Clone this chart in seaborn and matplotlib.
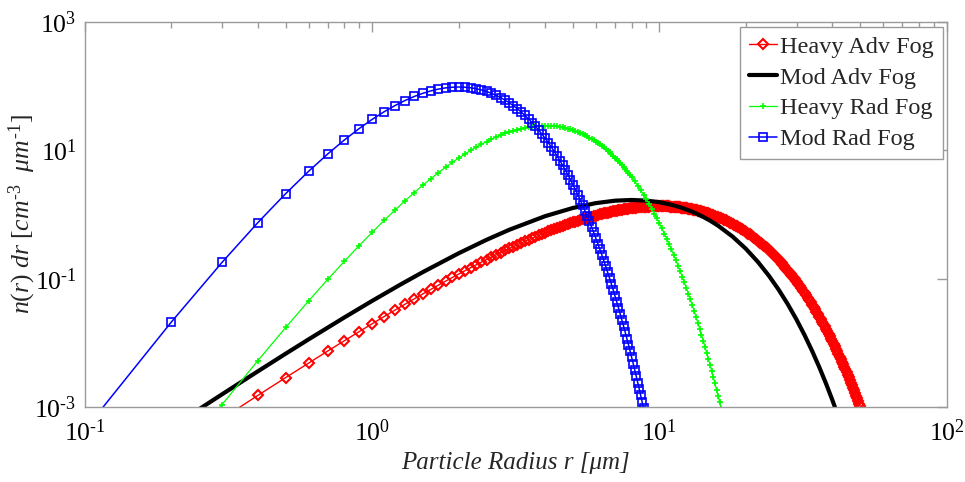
import numpy as np
import matplotlib
matplotlib.use("Agg")
import matplotlib.pyplot as plt
from matplotlib.ticker import LogLocator, NullLocator, NullFormatter
from matplotlib.font_manager import FontProperties
import seaborn as sns

# ---------------------------------------------------------------------------
# Fog droplet size distributions n(r) dr  [cm^-3 um^-1] versus radius r [um]
# ---------------------------------------------------------------------------

# Heavy advection fog: radii every 0.1 um to 15 um, then every 0.2 / 0.4 um
r_heavy_adv = np.round(np.concatenate([np.arange(0.3, 15.05, 0.1),
                                       np.arange(15.2, 30.05, 0.2),
                                       np.arange(30.4, 50.05, 0.4)]), 2)
n_heavy_adv = [
    # 0.3 .. 10.0 um
    6.663e-4, 1.533e-3, 2.905e-3, 4.871e-3, 7.507e-3, 1.0875e-2, 1.503e-2, 2.000e-2,
    2.583e-2, 3.255e-2, 4.016e-2, 4.868e-2, 5.810e-2, 6.843e-2, 7.965e-2, 9.176e-2,
    0.10473, 0.11855, 0.13315, 0.14858, 0.16479, 0.18171, 0.19925, 0.21755, 0.23639,
    0.25584, 0.27586, 0.29637, 0.31733, 0.33871, 0.36055, 0.38268, 0.4051, 0.42781,
    0.45073, 0.47387, 0.49710, 0.5205, 0.54386, 0.56737, 0.59089, 0.6144, 0.63787,
    0.66119, 0.68442, 0.70741, 0.73035, 0.75306, 0.7755, 0.79773, 0.81972, 0.84136,
    0.8627, 0.88375, 0.9043, 0.92466, 0.94454, 0.96401, 0.98311, 1.00173, 1.01993,
    1.03767, 1.05492, 1.07172, 1.08803, 1.10390, 1.11925, 1.13409, 1.14841, 1.16219,
    1.17549, 1.18828, 1.20049, 1.21230, 1.22354, 1.23421, 1.24445, 1.25409, 1.26327,
    1.27183, 1.27999, 1.28759, 1.29472, 1.30133, 1.30742, 1.31300, 1.31815, 1.32277,
    1.32695, 1.33068, 1.33390, 1.33673, 1.33901, 1.34092, 1.34237, 1.34345, 1.34407,
    1.34423,
    # 10.1 .. 15.0 um
    1.34403, 1.34345, 1.34241, 1.34107, 1.33938, 1.33731, 1.33480, 1.33200, 1.32888, 1.32545,
    1.32168, 1.31763, 1.31324, 1.30850, 1.30360, 1.29837, 1.29278, 1.28706, 1.28111, 1.27482,
    1.26828, 1.26162, 1.25464, 1.24752, 1.24019, 1.23267, 1.22492, 1.21706, 1.20898, 1.20071,
    1.19234, 1.18377, 1.17511, 1.16627, 1.15737, 1.14834, 1.13915, 1.12988, 1.12044, 1.11102,
    1.10144, 1.09182, 1.08203, 1.07226, 1.06243, 1.05247, 1.04253, 1.03248, 1.02245, 1.01230,
    # 15.2 .. 20.0 um
    0.99200, 0.97161, 0.95111, 0.93068, 0.91016, 0.88973, 0.86928, 0.84900, 0.82882, 0.80876,
    0.78887, 0.76914, 0.74960, 0.73032, 0.71122, 0.69238, 0.67381, 0.65547, 0.63745, 0.61966,
    0.60219, 0.58504, 0.56821, 0.55167, 0.53543,
    # 20.2 .. 30.0 um
    0.51952, 0.50395, 0.48867, 0.47376, 0.45919, 0.44492, 0.43096, 0.41735, 0.40405, 0.39106,
    0.37847, 0.36616, 0.35416, 0.34245, 0.33105, 0.32001, 0.30922, 0.29875, 0.28857, 0.27866,
    0.26905, 0.25973, 0.25066, 0.24187, 0.23331, 0.22507, 0.21705, 0.20928, 0.20175, 0.19446,
    0.18738, 0.18054, 0.17392, 0.16751, 0.16132, 0.15533, 0.14954, 0.14394, 0.13852, 0.13326,
    0.12824, 0.12336, 0.11864, 0.11410, 0.10970, 0.10547, 0.10138, 0.097434, 0.093637, 0.08997,
    # 30.4 .. 50.0 um
    0.083027, 0.076585, 0.070604, 0.065063, 0.05993, 0.055168, 0.050761, 0.046690, 0.042925, 0.03945,
    0.036236, 0.033272, 0.030538, 0.028020, 0.02569, 0.023560, 0.021593, 0.019782, 0.018118, 0.01659,
    0.015181, 0.013889, 0.012704, 0.011616, 0.010618, 0.0097022, 0.0088633, 0.0080941, 0.0073901, 0.006746,
    0.0061555, 0.0056151, 0.0051211, 0.0046692, 0.004257, 0.0038790, 0.0035343, 0.0032193, 0.0029316, 0.002670,
    0.0024297, 0.0022111, 0.0020118, 0.0018301, 0.001665, 0.0015134, 0.0013758, 0.0012505, 0.0011363, 0.001032,
]

# Moderate advection fog (plain line)
r_mod_adv = [0.2, 0.25, 0.3, 0.4, 0.5, 0.6, 0.8, 1, 1.25, 1.5, 2, 2.5, 3, 4, 5, 6, 7, 8,
             9, 10, 11, 12, 13, 14, 15, 16, 18, 20, 22, 24, 26, 28, 30, 32, 34, 36, 38, 40, 42]
n_mod_adv = [4.898e-4, 9.390e-4, 1.5924e-3, 3.6356e-3, 6.8395e-3, 0.011384, 0.025034,
             0.045361, 0.080667, 0.12692, 0.24941, 0.40384, 0.57853, 0.94250, 1.26514,
             1.50258, 1.63990, 1.68240, 1.64637, 1.55219, 1.41986, 1.26696, 1.10711,
             0.95034, 0.80337, 0.67010, 0.45069, 0.29203, 0.18361, 0.11260, 0.067623,
             0.039895, 0.023178, 0.013288, 0.0075288, 0.0042217, 0.0023453, 0.0012921,
             7.0658e-4]

# Heavy radiation fog
r_heavy_rad = np.round(np.concatenate([np.arange(0.2, 8.05, 0.1),
                                       np.arange(8.2, 16.65, 0.2)]), 2)
n_heavy_rad = [
    1.125e-4, 1.103e-3, 5.334e-3, 1.752e-2, 4.501e-2, 9.770e-2, 0.1874, 0.3269, 0.5295,
    0.8073, 1.1714, 1.6297, 2.1883, 2.8485, 3.612, 4.4727, 5.4236, 6.458, 7.561,
    8.722, 9.923, 11.153, 12.39, 13.63, 14.84, 16.02, 17.15, 18.22, 19.21,
    20.14, 20.97, 21.71, 22.35, 22.89, 23.33, 23.67, 23.90, 24.05, 24.09,
    24.05, 23.92, 23.71, 23.42, 23.07, 22.66, 22.19, 21.67, 21.10, 20.51,
    19.88, 19.22, 18.55, 17.86, 17.16, 16.46, 15.75, 15.05, 14.35, 13.66,
    12.98, 12.32, 11.68, 11.04, 10.43, 9.840, 9.270, 8.721, 8.193, 7.688,
    7.204, 6.744, 6.306, 5.888, 5.493, 5.120, 4.766, 4.432, 4.118, 3.822,
    3.2835, 2.8107, 2.3985, 2.0396, 1.729, 1.4614, 1.2318, 1.0353, 0.8681, 0.7259,
    0.6056, 0.5041, 0.4187, 0.3469, 0.2869, 0.2368, 0.1951, 0.1605, 0.1317, 0.1079,
    0.08828, 0.07210, 0.05879, 0.04787, 0.03892, 0.03160, 0.02562, 0.02074, 0.01678, 0.01355,
    0.01093, 0.008804, 0.007068, 0.005695, 0.004573, 0.003668, 0.002939, 0.002352, 0.001881, 0.001503,
    0.001200, 0.000957, 0.000762,
]

# Moderate radiation fog
r_mod_rad = np.round(np.arange(0.1, 9.05, 0.1), 2)
n_mod_rad = [
    4.50e-4, 2.134e-2, 0.1800, 0.750, 2.118, 4.686, 8.753, 14.45, 21.70, 30.25,
    39.69, 49.56, 59.35, 68.60, 76.87, 83.88, 89.40, 93.32, 95.62, 96.37,
    95.68, 93.70, 90.64, 86.68, 82.03, 76.89, 71.43, 65.83, 60.20, 54.65,
    49.29, 44.18, 39.36, 34.88, 30.75, 26.98, 23.55, 20.48, 17.73, 15.30,
    13.13, 11.25, 9.593, 8.157, 6.915, 5.845, 4.927, 4.142, 3.472, 2.904,
    2.423, 2.016, 1.675, 1.387, 1.148, 0.9474, 0.7804, 0.6418, 0.5268, 0.4317,
    0.3531, 0.2884, 0.2352, 0.1915, 0.1557, 0.1264, 0.1025, 0.08299, 0.06711, 0.05419,
    0.04371, 0.03521, 0.02834, 0.02278, 0.01830, 0.01467, 0.01176, 0.009410, 0.007526, 0.006012,
    0.004798, 0.003826, 0.003049, 0.002427, 0.001930, 0.001534, 0.001218, 0.000966, 0.000766, 0.000607,
]

labels = ["Heavy Adv Fog", "Mod Adv Fog", "Heavy Rad Fog", "Mod Rad Fog"]
HY = "\u2010"  # short hyphen for negative exponents
x_ticks = [0.1, 1, 10, 100]
x_tick_labels = [r"$\mathregular{10^{%s1}}$" % HY, r"$\mathregular{10^{0}}$",
                 r"$\mathregular{10^{1}}$", r"$\mathregular{10^{2}}$"]
y_ticks = [1e-3, 1e-1, 1e1, 1e3]
y_tick_labels = [r"$\mathregular{10^{%s3}}$" % HY, r"$\mathregular{10^{%s1}}$" % HY,
                 r"$\mathregular{10^{1}}$", r"$\mathregular{10^{3}}$"]
x_label = "Particle Radius r [\u03bcm]"
y_label = r"$n(r)\ dr\ [cm^{%s3}\ \ \mu m^{%s1}]$" % (HY, HY)

sns.set_style("white")
plt.rcParams["font.family"] = ["Liberation Serif", "DejaVu Serif"]
plt.rcParams["mathtext.fontset"] = "custom"
plt.rcParams["mathtext.rm"] = "Liberation Serif"
plt.rcParams["mathtext.it"] = "Liberation Serif:italic"
plt.rcParams["mathtext.default"] = "it"

FRAME = "#9a9a9a"

fig = plt.figure(figsize=(9.65, 4.82), dpi=100)
ax = fig.add_axes([85 / 965, 1 - 407.3 / 482, 861.7 / 965, 385.6 / 482])
ax.set_xscale("log")
ax.set_yscale("log")

common = dict(ax=ax, sort=False, errorbar=None)
sns.lineplot(x=r_heavy_adv, y=n_heavy_adv, color="#ff0000", lw=1.0,
             marker="D", markersize=5.2, mfc="none", mec="#ff0000", mew=1.5,
             label=labels[0], **common)
sns.lineplot(x=r_mod_adv, y=n_mod_adv, color="#000000", lw=3.0,
             label=labels[1], **common)
sns.lineplot(x=r_heavy_rad, y=n_heavy_rad, color="#00ff00", lw=0.9,
             marker="+", markersize=5.0, mec="#00ff00", mew=1.2,
             label=labels[2], **common)
sns.lineplot(x=r_mod_rad, y=n_mod_rad, color="#0000ff", lw=1.1,
             marker="s", markersize=5.6, mfc="none", mec="#0000ff", mew=1.2,
             label=labels[3], **common)

ax.set_xlim(0.1, 100)
ax.set_ylim(1e-3, 1e3)
ax.set_xticks(x_ticks, labels=x_tick_labels)
ax.set_yticks(y_ticks, labels=y_tick_labels)
ax.xaxis.set_minor_locator(LogLocator(base=10, subs=np.arange(2, 10), numticks=20))
ax.xaxis.set_minor_formatter(NullFormatter())
ax.yaxis.set_minor_locator(NullLocator())

ax.tick_params(axis="both", which="both", direction="in", top=True, right=True,
               color=FRAME, width=1.0, labelcolor="black")
ax.tick_params(axis="both", which="major", length=7, labelsize=18.5)
ax.tick_params(axis="both", which="minor", length=4)
ax.tick_params(axis="x", which="major", pad=9)
ax.tick_params(axis="y", which="major", pad=6)

for sp in ax.spines.values():
    sp.set_color(FRAME)
    sp.set_linewidth(1.0)

ax.set_xlabel(x_label, fontsize=18, style="italic")
ax.set_ylabel(y_label, fontsize=18.5)
ax.xaxis.set_label_coords(0.5, -0.115)
ax.yaxis.set_label_coords(-0.055, 0.5)

leg = ax.legend(loc="upper right", bbox_to_anchor=(0.9957, 0.9863), borderaxespad=0,
                frameon=True, fancybox=False, shadow=False, framealpha=1,
                edgecolor=FRAME, facecolor="white",
                prop=FontProperties(family="Liberation Serif", size=17.5),
                handlelength=1.15, handletextpad=0.15, labelspacing=0.36,
                borderpad=0.36, numpoints=1)
leg.get_frame().set_linewidth(1.0)

fig.savefig("out.png", dpi=100)
